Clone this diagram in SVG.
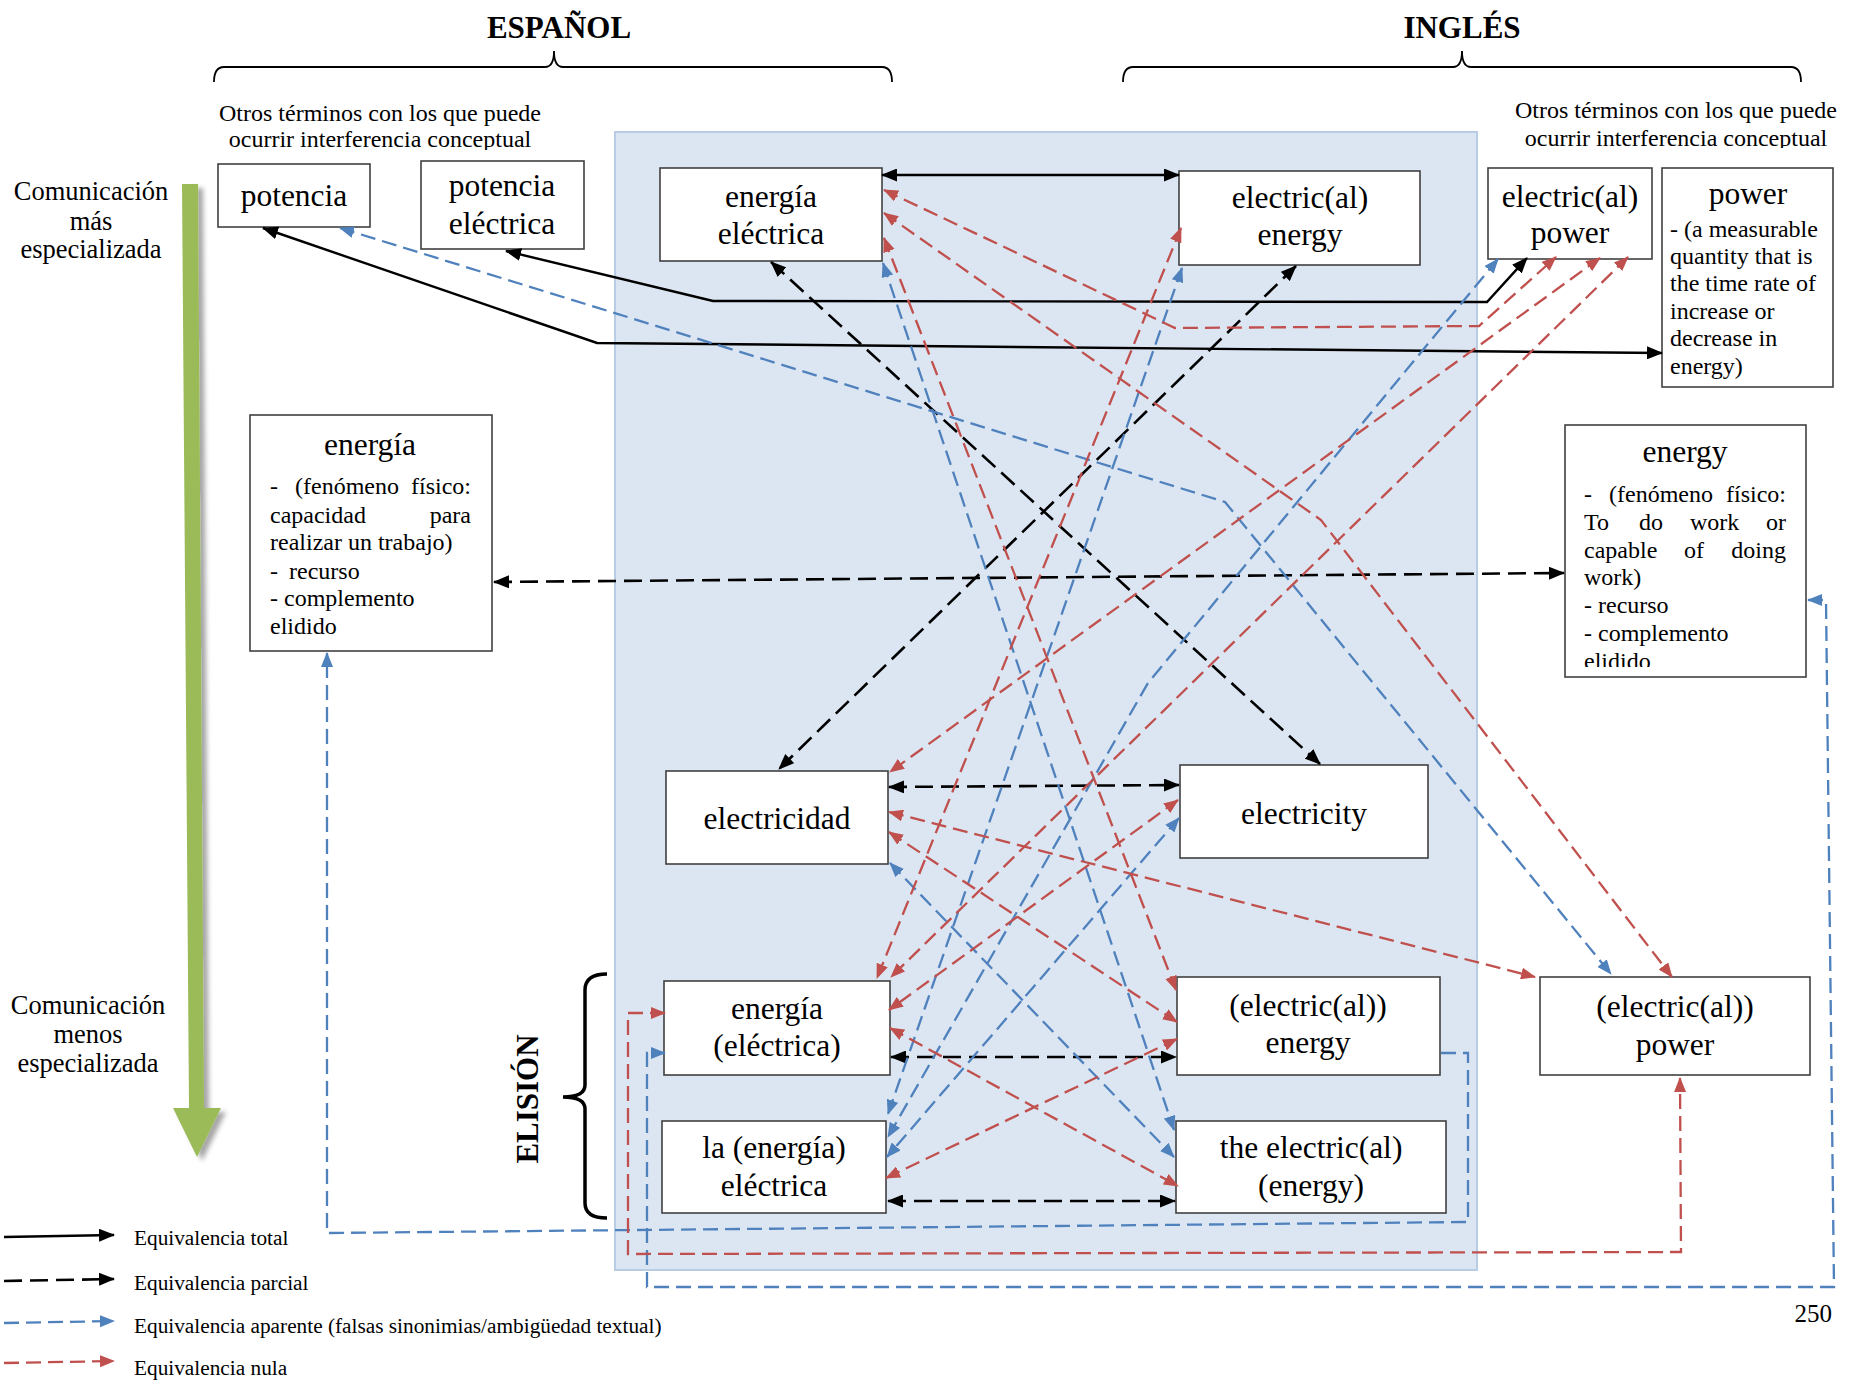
<svg xmlns="http://www.w3.org/2000/svg" width="1856" height="1380" viewBox="0 0 1856 1380">
  <style>
    text { font-family: "Liberation Serif", "Times New Roman", serif; fill: #000; }
    .t { font-size: 31.5px; text-anchor: middle; }
    .d { font-size: 24px; }
    .h { font-size: 31px; font-weight: bold; text-anchor: middle; }
    .s { font-size: 26.5px; text-anchor: middle; }
    .o { font-size: 24px; text-anchor: middle; }
    .lg { font-size: 21.3px; }
    .box { fill: #fff; stroke: #404040; stroke-width: 1.6; }
    .k { fill: none; stroke: #000; stroke-width: 2.4; }
    .kd { fill: none; stroke: #000; stroke-width: 2.6; stroke-dasharray: 18 8; }
    .b { fill: none; stroke: #4F81BD; stroke-width: 2.3; stroke-dasharray: 15 7; }
    .r { fill: none; stroke: #C0504D; stroke-width: 2.3; stroke-dasharray: 15 7; }
    .br { fill: none; stroke: #000; stroke-width: 1.8; }
  </style>
  <defs>
    <marker id="ak" viewBox="0 0 16 13" refX="15" refY="6.5" markerWidth="16" markerHeight="13" markerUnits="userSpaceOnUse" orient="auto-start-reverse">
      <path d="M0,0 L16,6.5 L0,13 z" fill="#000"/>
    </marker>
    <marker id="ab" viewBox="0 0 15 12" refX="14" refY="6" markerWidth="15" markerHeight="12" markerUnits="userSpaceOnUse" orient="auto-start-reverse">
      <path d="M0,0 L15,6 L0,12 z" fill="#4F81BD"/>
    </marker>
    <marker id="ar" viewBox="0 0 15 12" refX="14" refY="6" markerWidth="15" markerHeight="12" markerUnits="userSpaceOnUse" orient="auto-start-reverse">
      <path d="M0,0 L15,6 L0,12 z" fill="#C0504D"/>
    </marker>
    <filter id="shadow" x="-50%" y="-5%" width="200%" height="110%">
      <feDropShadow dx="5" dy="4" stdDeviation="2.5" flood-color="#000" flood-opacity="0.35"/>
    </filter>
    <clipPath id="clipL"><rect x="150" y="90" width="450" height="60"/></clipPath>
    <clipPath id="clipR"><rect x="1480" y="90" width="376" height="58"/></clipPath>
    <clipPath id="clipE"><rect x="1566" y="426" width="239" height="241"/></clipPath>
  </defs>

  <!-- shared panel behind the core terms -->
  <rect x="615" y="132" width="862" height="1138" fill="#DCE6F2" stroke="#B8CCE4" stroke-width="2"/>

  <!-- headings and braces -->
  <text class="h" x="559" y="38">ESPAÑOL</text>
  <text class="h" x="1462" y="38">INGLÉS</text>
  <path class="br" d="M214,82 Q214,67 224,67 L545,67 Q554,67 554,51 Q554,67 563,67 L882,67 Q892,67 892,82"/>
  <path class="br" d="M1123,82 Q1123,67 1133,67 L1453,67 Q1462,67 1462,51 Q1462,67 1471,67 L1791,67 Q1801,67 1801,82"/>

  <g clip-path="url(#clipL)">
    <text class="o" x="380" y="121">Otros términos con los que puede</text>
    <text class="o" x="380" y="147">ocurrir interferencia conceptual</text>
  </g>
  <g clip-path="url(#clipR)">
    <text class="o" x="1676" y="118">Otros términos con los que puede</text>
    <text class="o" x="1676" y="146">ocurrir interferencia conceptual</text>
  </g>

  <!-- specialisation scale -->
  <text class="s" x="91" y="200">Comunicación</text>
  <text class="s" x="91" y="230">más</text>
  <text class="s" x="91" y="258">especializada</text>
  <text class="s" x="88" y="1014">Comunicación</text>
  <text class="s" x="88" y="1043">menos</text>
  <text class="s" x="88" y="1072">especializada</text>
  <polygon points="182,184 198,184 204,1108 221,1108 197,1157 173,1108 189,1108" fill="#9BBB59" filter="url(#shadow)"/>

  <!-- elision brace -->
  <text class="h" transform="translate(538,1099) rotate(-90)">ELISIÓN</text>
  <path d="M607,974 Q585,974 585,990 L585,1085 Q585,1097 563,1097 Q585,1097 585,1109 L585,1203 Q585,1218 607,1218" fill="none" stroke="#000" stroke-width="3.5"/>

  <!-- nodes -->
  <g id="potencia">
    <rect class="box" x="218" y="164" width="152" height="63"/>
    <text class="t" x="294" y="206">potencia</text>
  </g>
  <g id="potencia-electrica">
    <rect class="box" x="421" y="161" width="163" height="88"/>
    <text class="t" x="502" y="196">potencia</text>
    <text class="t" x="502" y="234">eléctrica</text>
  </g>
  <g id="energia-electrica">
    <rect class="box" x="660" y="168" width="222" height="93"/>
    <text class="t" x="771" y="207">energía</text>
    <text class="t" x="771" y="244">eléctrica</text>
  </g>
  <g id="electrical-energy">
    <rect class="box" x="1179" y="171" width="241" height="94"/>
    <text class="t" x="1300" y="208">electric(al)</text>
    <text class="t" x="1300" y="245">energy</text>
  </g>
  <g id="electrical-power">
    <rect class="box" x="1488" y="168" width="164" height="91"/>
    <text class="t" x="1570" y="207">electric(al)</text>
    <text class="t" x="1570" y="243">power</text>
  </g>
  <g id="power">
    <rect class="box" x="1662" y="168" width="171" height="219"/>
    <text class="t" x="1748" y="204">power</text>
    <text class="d" x="1670" y="237">- (a measurable</text>
    <text class="d" x="1670" y="264">quantity that is</text>
    <text class="d" x="1670" y="291">the time rate of</text>
    <text class="d" x="1670" y="319">increase or</text>
    <text class="d" x="1670" y="346">decrease in</text>
    <text class="d" x="1670" y="374">energy)</text>
  </g>
  <g id="energia">
    <rect class="box" x="250" y="415" width="242" height="236"/>
    <text class="t" x="370" y="455">energía</text>
    <text class="d" x="270" y="494">-</text>
    <text class="d" x="295" y="494">(fenómeno</text>
    <text class="d" x="471" y="494" text-anchor="end">físico:</text>
    <text class="d" x="270" y="523">capacidad</text>
    <text class="d" x="471" y="523" text-anchor="end">para</text>
    <text class="d" x="270" y="550">realizar un trabajo)</text>
    <text class="d" x="270" y="579">-</text>
    <text class="d" x="289" y="579">recurso</text>
    <text class="d" x="270" y="606">- complemento</text>
    <text class="d" x="270" y="634">elidido</text>
  </g>
  <g id="energy">
    <rect class="box" x="1565" y="425" width="241" height="252"/>
    <text class="t" x="1685" y="462">energy</text>
    <g clip-path="url(#clipE)">
      <text class="d" x="1584" y="502">-</text>
      <text class="d" x="1609" y="502">(fenómeno</text>
      <text class="d" x="1786" y="502" text-anchor="end">físico:</text>
      <text class="d" x="1584" y="530">To</text>
      <text class="d" x="1639" y="530">do</text>
      <text class="d" x="1690" y="530">work</text>
      <text class="d" x="1786" y="530" text-anchor="end">or</text>
      <text class="d" x="1584" y="558">capable</text>
      <text class="d" x="1684" y="558">of</text>
      <text class="d" x="1786" y="558" text-anchor="end">doing</text>
      <text class="d" x="1584" y="585">work)</text>
      <text class="d" x="1584" y="613">- recurso</text>
      <text class="d" x="1584" y="641">- complemento</text>
      <text class="d" x="1584" y="669">elidido</text>
    </g>
  </g>
  <g id="electricidad">
    <rect class="box" x="666" y="771" width="222" height="93"/>
    <text class="t" x="777" y="829">electricidad</text>
  </g>
  <g id="electricity">
    <rect class="box" x="1180" y="765" width="248" height="93"/>
    <text class="t" x="1304" y="824">electricity</text>
  </g>
  <g id="energia-paren">
    <rect class="box" x="664" y="981" width="226" height="94"/>
    <text class="t" x="777" y="1019">energía</text>
    <text class="t" x="777" y="1056">(eléctrica)</text>
  </g>
  <g id="paren-electrical-energy">
    <rect class="box" x="1177" y="977" width="263" height="98"/>
    <text class="t" x="1308" y="1016">(electric(al))</text>
    <text class="t" x="1308" y="1053">energy</text>
  </g>
  <g id="la-energia-electrica">
    <rect class="box" x="662" y="1121" width="224" height="92"/>
    <text class="t" x="774" y="1158">la (energía)</text>
    <text class="t" x="774" y="1196">eléctrica</text>
  </g>
  <g id="the-electrical-energy">
    <rect class="box" x="1176" y="1121" width="270" height="92"/>
    <text class="t" x="1311" y="1158">the electric(al)</text>
    <text class="t" x="1311" y="1196">(energy)</text>
  </g>
  <g id="paren-electrical-power">
    <rect class="box" x="1540" y="977" width="270" height="98"/>
    <text class="t" x="1675" y="1017">(electric(al))</text>
    <text class="t" x="1675" y="1055">power</text>
  </g>

  <!-- connectors -->
  <g id="connectors">
    <!-- total equivalence -->
    <line class="k" x1="882" y1="175" x2="1179" y2="175" marker-start="url(#ak)" marker-end="url(#ak)"/>
    <polyline class="k" points="506,251 713,301 1487,302 1527,258" marker-start="url(#ak)" marker-end="url(#ak)"/>
    <polyline class="k" points="263,228 597,343 1662,353" marker-start="url(#ak)" marker-end="url(#ak)"/>

    <!-- partial equivalence -->
    <line class="kd" x1="771" y1="262" x2="1320" y2="764" marker-start="url(#ak)" marker-end="url(#ak)"/>
    <line class="kd" x1="1296" y1="266" x2="779" y2="769" marker-start="url(#ak)" marker-end="url(#ak)"/>
    <line class="kd" x1="494" y1="582" x2="1564" y2="573" marker-start="url(#ak)" marker-end="url(#ak)"/>
    <line class="kd" x1="889" y1="787" x2="1179" y2="785" marker-start="url(#ak)" marker-end="url(#ak)"/>
    <line class="kd" x1="891" y1="1057" x2="1176" y2="1057" marker-start="url(#ak)" marker-end="url(#ak)"/>
    <line class="kd" x1="888" y1="1201" x2="1175" y2="1201" marker-start="url(#ak)" marker-end="url(#ak)"/>

    <!-- apparent equivalence -->
    <polyline class="b" points="340,228 1225,502 1611,974" marker-start="url(#ab)" marker-end="url(#ab)"/>
    <line class="b" x1="883" y1="263" x2="1174" y2="1130" marker-start="url(#ab)" marker-end="url(#ab)"/>
    <line class="b" x1="890" y1="863" x2="1174" y2="1157" marker-start="url(#ab)" marker-end="url(#ab)"/>
    <line class="b" x1="1182" y1="268" x2="888" y2="1114" marker-start="url(#ab)" marker-end="url(#ab)"/>
    <polyline class="b" points="1498,259 1148,683 888,1137" marker-start="url(#ab)" marker-end="url(#ab)"/>
    <line class="b" x1="1179" y1="818" x2="887" y2="1157" marker-start="url(#ab)" marker-end="url(#ab)"/>
    <polyline class="b" points="1441,1053 1468,1053 1468,1222 327,1233 327,653" marker-end="url(#ab)"/>
    <polyline class="b" points="1808,600 1826,600 1834,1287 647,1287 647,1053 665,1053" marker-start="url(#ab)" marker-end="url(#ab)"/>

    <!-- null equivalence -->
    <polyline class="r" points="884,190 1175,328 1479,326 1556,257" marker-start="url(#ar)" marker-end="url(#ar)"/>
    <polyline class="r" points="884,213 1321,520 1672,977" marker-start="url(#ar)" marker-end="url(#ar)"/>
    <line class="r" x1="884" y1="238" x2="1176" y2="990" marker-start="url(#ar)" marker-end="url(#ar)"/>
    <line class="r" x1="1181" y1="228" x2="877" y2="978" marker-start="url(#ar)" marker-end="url(#ar)"/>
    <line class="r" x1="1600" y1="258" x2="890" y2="772" marker-start="url(#ar)" marker-end="url(#ar)"/>
    <line class="r" x1="1628" y1="257" x2="891" y2="977" marker-start="url(#ar)" marker-end="url(#ar)"/>
    <line class="r" x1="1178" y1="800" x2="889" y2="1010" marker-start="url(#ar)" marker-end="url(#ar)"/>
    <line class="r" x1="889" y1="812" x2="1535" y2="977" marker-start="url(#ar)" marker-end="url(#ar)"/>
    <line class="r" x1="889" y1="832" x2="1177" y2="1022" marker-start="url(#ar)" marker-end="url(#ar)"/>
    <line class="r" x1="886" y1="1178" x2="1177" y2="1039" marker-start="url(#ar)" marker-end="url(#ar)"/>
    <line class="r" x1="890" y1="1028" x2="1178" y2="1186" marker-start="url(#ar)" marker-end="url(#ar)"/>
    <polyline class="r" points="665,1013 628,1013 628,1254 1681,1252 1680,1078" marker-start="url(#ar)" marker-end="url(#ar)"/>
  </g>

  <!-- legend -->
  <g id="legend">
    <line class="k" x1="4" y1="1237" x2="114" y2="1235" marker-end="url(#ak)"/>
    <text class="lg" x="134" y="1245">Equivalencia total</text>
    <line class="kd" x1="4" y1="1281" x2="114" y2="1279" marker-end="url(#ak)"/>
    <text class="lg" x="134" y="1290">Equivalencia parcial</text>
    <line class="b" x1="4" y1="1323" x2="114" y2="1321" stroke-width="2.6" stroke-dasharray="18 8" marker-end="url(#ab)"/>
    <text class="lg" x="134" y="1333">Equivalencia aparente (falsas sinonimias/ambigüedad textual)</text>
    <line class="r" x1="4" y1="1363" x2="114" y2="1361" stroke-width="2.6" stroke-dasharray="18 8" marker-end="url(#ar)"/>
    <text class="lg" x="134" y="1375">Equivalencia nula</text>
  </g>

  <text x="1832" y="1322" font-size="25" text-anchor="end">250</text>
</svg>
